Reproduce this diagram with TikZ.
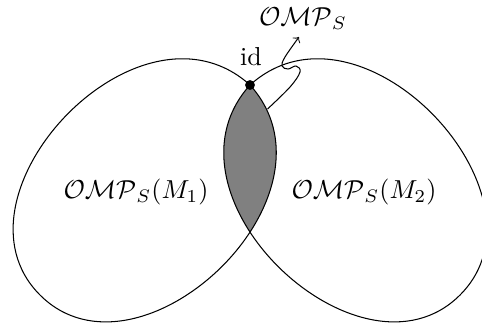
\documentclass[tikz,border=0pt]{standalone}
\usepackage{amsmath}
\begin{document}
\begin{tikzpicture}[x=0.385pt,y=0.385pt,
  setline/.style={draw=black,line width=0.4pt},
  lab/.style={inner sep=0pt}]
\useasboundingbox (0,0) rectangle (482,322);
\coordinate (P) at (250,237);
\def\leftshape{(P) .. controls (350,126) and (139,-72) .. (40,27) .. controls (-59,126) and (139,337) .. (P)}
\def\rightshape{(P) .. controls (150,126) and (361,-72) .. (460,27) .. controls (559,126) and (361,337) .. (P)}
% lens
\begin{scope}
  \clip \leftshape;
  \fill[gray] \rightshape;
\end{scope}
\begin{scope}
  \clip (0,0) rectangle (482,322);
  \draw[setline] \leftshape;
  \draw[setline] \rightshape;
\end{scope}
\node[circle, fill=black, inner sep=0pt, minimum size=3.8pt] (id) at (P) {};
\node[lab] (idl) at (251,265) {id};
\node[lab] (m1) at (136,130) {$\mathcal{OMP}_S(M_1)$};
\node[lab] (m2) at (364,130) {$\mathcal{OMP}_S(M_2)$};
\node[lab] (top) at (303,303) {$\mathcal{OMP}_S$};
\coordinate (s) at (267.5,213);
\coordinate (t) at (299,285);
\draw[setline,->] plot[smooth, tension=0.6] coordinates {(s) (290,235) (300,250) (296,256) (288,253) (282,256) (285,265) (t)};
\end{tikzpicture}
\end{document}
